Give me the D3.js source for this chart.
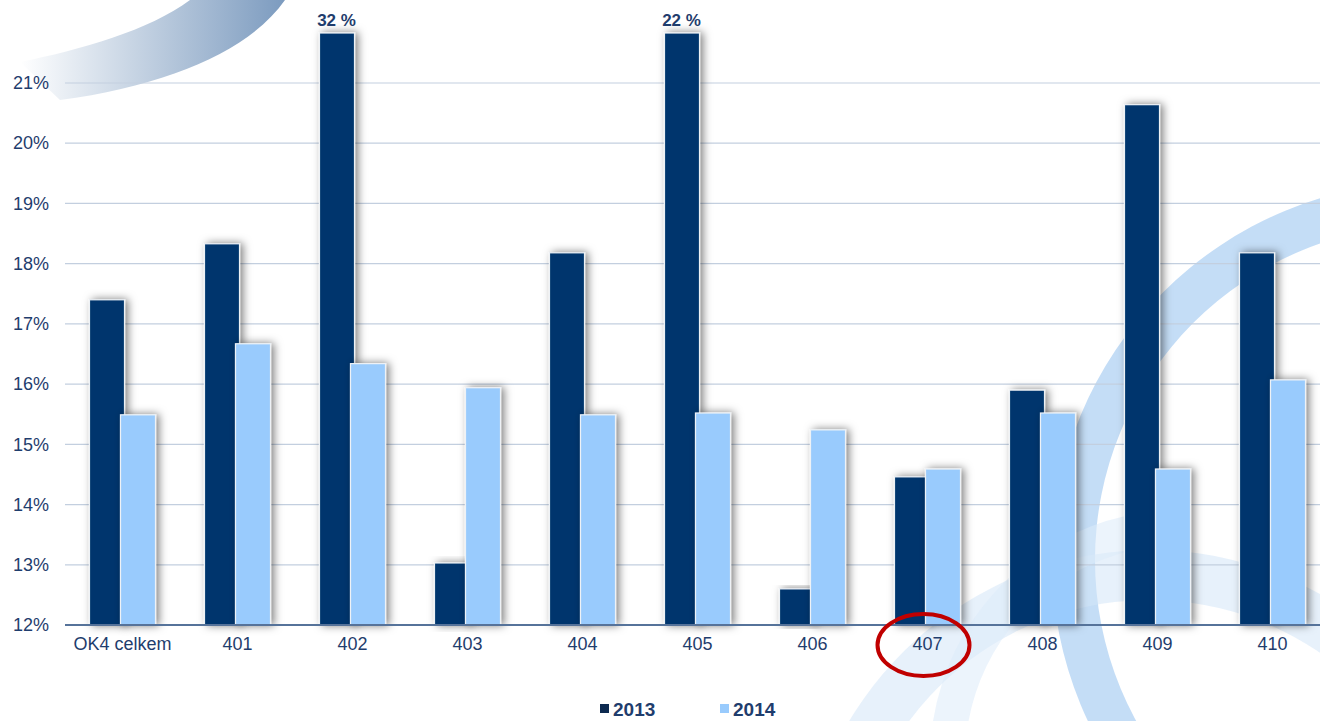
<!DOCTYPE html>
<html lang="cs">
<head>
<meta charset="UTF-8">
<title>OK4</title>
<script src="https://d3js.org/d3.v7.min.js"></script>
<style>
  body { margin: 0; background: #fff; }
  svg { display: block; font-family: "Liberation Sans", Arial, sans-serif; }
</style>
</head>
<body>
<script>
// data
var categories = ["OK4 celkem", "401", "402", "403", "404", "405", "406", "407", "408", "409", "410"];
var series = ["2013", "2014"];
var values2013 = [17.40, 18.33, 32, 13.03, 18.18, 22, 12.60, 14.46, 15.90, 20.64, 18.18];
var values2014 = [15.49, 16.67, 16.34, 15.94, 15.49, 15.52, 15.24, 14.59, 15.52, 14.59, 16.07];
var yTicks = [12, 13, 14, 15, 16, 17, 18, 19, 20, 21];
var highlighted = "407";

var width = 1320, height = 721;
var colors = { "2013": "#00366d", "2014": "#99cbfd" };
var textColor = "#1f3d6d";

var svg = d3.select("body").append("svg")
  .attr("width", width)
  .attr("height", height);

var defs = svg.append("defs");
var shadow = defs.append("filter").attr("id", "shadow")
  .attr("x", "-50%").attr("y", "-10%").attr("width", "200%").attr("height", "120%");
shadow.append("feDropShadow")
  .attr("dx", 3).attr("dy", 0).attr("stdDeviation", 4.5)
  .attr("flood-color", "#000").attr("flood-opacity", 0.5);

var grad = defs.append("linearGradient").attr("id", "swoosh")
  .attr("x1", "0%").attr("y1", "0%").attr("x2", "100%").attr("y2", "0%");
grad.append("stop").attr("offset", "0%").attr("stop-color", "#ffffff");
grad.append("stop").attr("offset", "100%").attr("stop-color", "#7c9bbf");

// background decoration (logo arcs)
var bg = svg.append("g");
bg.append("path")
  .attr("d", "M20,62 C80,50 150,30 190,0 L285,0 C250,50 170,85 60,100 Z")
  .attr("fill", "url(#swoosh)");

var ring = d3.arc();
bg.append("path")
  .attr("transform", "translate(1430,560)")
  .attr("d", ring({ innerRadius: 335, outerRadius: 378, startAngle: -Math.PI, endAngle: 0 }))
  .attr("fill", "#b0d2f3").attr("opacity", 0.75);
bg.append("path")
  .attr("transform", "translate(1150,900)")
  .attr("d", ring({ innerRadius: 300, outerRadius: 350, startAngle: -Math.PI * 0.6, endAngle: Math.PI * 0.3 }))
  .attr("fill", "#d3e5f7").attr("opacity", 0.55);
bg.append("path")
  .attr("transform", "translate(1180,760)")
  .attr("d", ring({ innerRadius: 215, outerRadius: 250, startAngle: -Math.PI * 0.75, endAngle: -Math.PI * 0.05 }))
  .attr("fill", "#dcebf9").attr("opacity", 0.55);

// scales
var x0 = d3.scaleBand().domain(categories).range([65, 1330]);
var x1 = d3.scaleBand().domain(series).range([-32, 32]);
var y = d3.scaleLinear().domain([12, 21.83]).range([625, 33]).clamp(true);

// gridlines
svg.append("g").selectAll("line")
  .data(yTicks.slice(1))
  .enter().append("line")
  .attr("x1", 65).attr("x2", width)
  .attr("y1", function (d) { return y(d); })
  .attr("y2", function (d) { return y(d); })
  .attr("stroke", "#c3cfdf").attr("stroke-width", 1.2);

// y axis labels
var yAxis = d3.axisLeft(y).tickValues(yTicks)
  .tickFormat(function (d) { return d + "%"; })
  .tickSize(0).tickPadding(16);
var ya = svg.append("g").attr("transform", "translate(65,0)").call(yAxis);
ya.select(".domain").remove();
ya.selectAll("text").attr("font-size", 18).attr("fill", textColor)
  .attr("font-family", "Liberation Sans, Arial, sans-serif");

// bars
var rows = categories.map(function (c, i) {
  return { cat: c, vals: [{ s: "2013", v: values2013[i] }, { s: "2014", v: values2014[i] }] };
});

var groups = svg.append("g").selectAll("g")
  .data(rows)
  .enter().append("g")
  .attr("transform", function (d) { return "translate(" + (x0(d.cat) + x0.bandwidth() / 2) + ",0)"; });

groups.selectAll("rect")
  .data(function (d) { return d.vals; })
  .enter().append("rect")
  .attr("x", function (d) { return x1(d.s) - (d.s === "2014" ? 2 : 1); })
  .attr("width", x1.bandwidth() + 3)
  .attr("y", function (d) { return y(d.v); })
  .attr("height", function (d) { return y(12) - y(d.v); })
  .attr("fill", function (d) { return colors[d.s]; })
  .attr("stroke", "#eef2f6").attr("stroke-width", 1.2)
  .attr("filter", "url(#shadow)");

// labels for clipped bars
groups.filter(function (d) { return d.vals[0].v > y.domain()[1]; })
  .append("text")
  .attr("x", x1("2013") + x1.bandwidth() / 2)
  .attr("y", 26)
  .attr("text-anchor", "middle")
  .attr("font-size", 17).attr("font-weight", "bold")
  .attr("fill", textColor)
  .text(function (d) { return d.vals[0].v + " %"; });

// x axis
var xAxis = d3.axisBottom(x0).tickSize(0).tickPadding(12);
var xa = svg.append("g").attr("transform", "translate(0,625)").call(xAxis);
xa.select(".domain").attr("stroke", "#56739a").attr("stroke-width", 2)
  .attr("d", "M65,0H" + width);
xa.selectAll("text").attr("font-size", 18).attr("fill", textColor)
  .attr("font-family", "Liberation Sans, Arial, sans-serif");

// highlight ellipse
svg.append("ellipse")
  .attr("cx", x0(highlighted) + x0.bandwidth() / 2 - 4)
  .attr("cy", 645)
  .attr("rx", 46).attr("ry", 31)
  .attr("fill", "none")
  .attr("stroke", "#c00000").attr("stroke-width", 4);

// legend
var legend = svg.append("g").selectAll("g")
  .data(series)
  .enter().append("g")
  .attr("transform", function (d, i) { return "translate(" + (600 + i * 120) + ",716)"; });
legend.append("rect")
  .attr("x", 0).attr("y", -12).attr("width", 9).attr("height", 9)
  .attr("fill", function (d) { return d === "2013" ? "#0d2a50" : colors[d]; });
legend.append("text")
  .attr("x", 13).attr("y", 0)
  .attr("font-size", 19).attr("font-weight", "bold")
  .attr("fill", textColor)
  .text(function (d) { return d; });
</script>
</body>
</html>
